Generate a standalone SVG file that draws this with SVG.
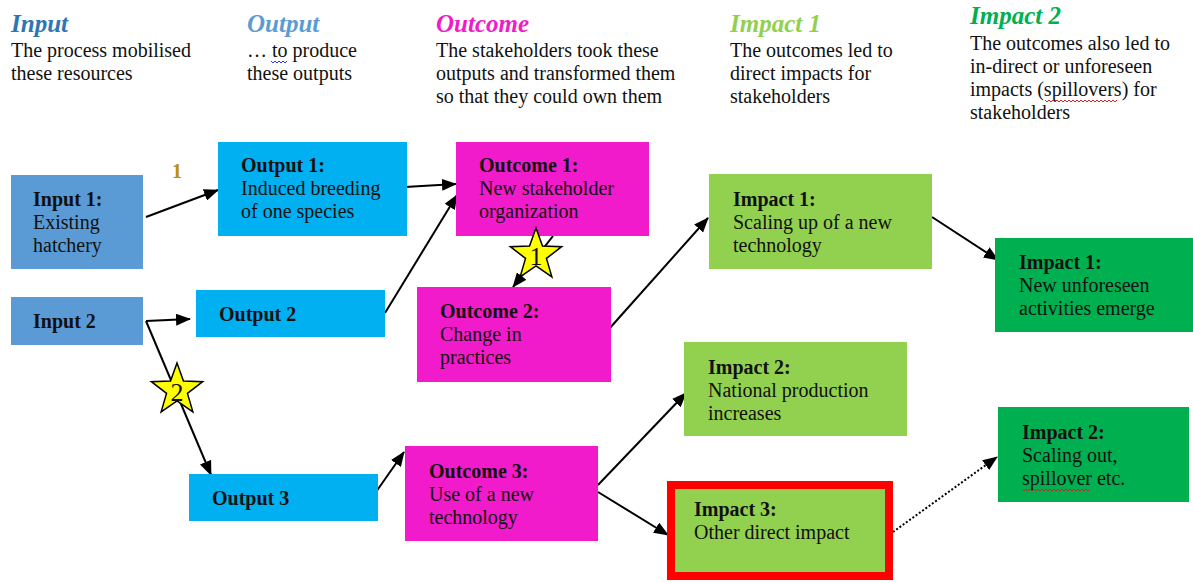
<svg xmlns="http://www.w3.org/2000/svg" width="1193" height="583" viewBox="0 0 1193 583">
  <style>
    text { font-family: 'Liberation Serif', 'Times New Roman', serif; }
    .hd { font-size: 25px; font-weight: bold; font-style: italic; }
    .tx { font-size: 20px; fill: #111; }
    .b { font-weight: bold; }
    .edge { stroke: #000; stroke-width: 2; fill: none; marker-end: url(#arrow); }
    .dot { stroke-dasharray: 2 2; }
    .star { fill: #FFFF00; stroke: #000; stroke-width: 1.5; }
    .num { font-size: 26px; fill: #111; text-anchor: middle; }
    .wavy-b { fill: none; stroke: #3333DD; stroke-width: 1; }
    .wavy-r { fill: none; stroke: #E02020; stroke-width: 1; }
    .inp { fill: #5B9BD5; }
    .out { fill: #00B0F0; }
    .ocm { fill: #F11BCB; }
    .im1 { fill: #92D050; }
    .im2 { fill: #00B050; }
  </style>
  <defs>
    <marker id="arrow" markerUnits="userSpaceOnUse" markerWidth="15" markerHeight="12" refX="14" refY="6" orient="auto">
      <path d="M0,0 L15,6 L0,12 z" fill="#000"/>
    </marker>
    <path id="starShape" d="M0,-27 L6.47,-8.9 L25.68,-8.34 L10.46,3.4 L15.87,21.84 L0,11 L-15.87,21.84 L-10.46,3.4 L-25.68,-8.34 L-6.47,-8.9 Z"/>
  </defs>

  <rect width="1193" height="583" fill="#fff"/>

  <!-- column headings -->
  <g id="headings">
    <text class="hd" x="11" y="32" fill="#2E75B6">Input</text>
    <text class="tx" x="11" y="57">The process mobilised</text>
    <text class="tx" x="11" y="80">these resources</text>

    <text class="hd" x="247" y="32" fill="#5B9BD5">Output</text>
    <text class="tx" x="247" y="57">… to produce</text>
    <text class="tx" x="247" y="80">these outputs</text>
    <path class="wavy-b" d="M271,61 l2,2 l2,-2 l2,2 l2,-2 l2,2 l2,-2 l2,2 l2,-2"/>

    <text class="hd" x="436" y="32" fill="#EE1DC8">Outcome</text>
    <text class="tx" x="436" y="57">The stakeholders took these</text>
    <text class="tx" x="436" y="80">outputs and transformed them</text>
    <text class="tx" x="436" y="103">so that they could own them</text>

    <text class="hd" x="730" y="32" fill="#92D050">Impact 1</text>
    <text class="tx" x="730" y="57">The outcomes led to</text>
    <text class="tx" x="730" y="80">direct impacts for</text>
    <text class="tx" x="730" y="103">stakeholders</text>

    <text class="hd" x="970" y="24" fill="#00B050">Impact 2</text>
    <text class="tx" x="970" y="50">The outcomes also led to</text>
    <text class="tx" x="970" y="73">in-direct or unforeseen</text>
    <text class="tx" x="970" y="96">impacts (spillovers) for</text>
    <text class="tx" x="970" y="119">stakeholders</text>
    <path class="wavy-r" d="M1045,100 l2,2 l2,-2 l2,2 l2,-2 l2,2 l2,-2 l2,2 l2,-2 l2,2 l2,-2 l2,2 l2,-2 l2,2 l2,-2 l2,2 l2,-2 l2,2 l2,-2 l2,2 l2,-2 l2,2 l2,-2 l2,2 l2,-2 l2,2 l2,-2 l2,2 l2,-2 l2,2 l2,-2 l2,2 l2,-2 l2,2 l2,-2 l2,2 l2,-2"/>
  </g>

  <!-- connectors -->
  <g id="connectors">
    <line class="edge" x1="146" y1="217" x2="218" y2="190"/>
    <line class="edge" x1="405" y1="187" x2="456" y2="184"/>
    <line class="edge" x1="385" y1="313" x2="457" y2="195"/>
    <line class="edge" x1="553" y1="236" x2="513" y2="287"/>
    <line class="edge" x1="609" y1="329" x2="708" y2="218"/>
    <line class="edge" x1="932" y1="217" x2="998" y2="260"/>
    <line class="edge" x1="146" y1="321" x2="190" y2="319"/>
    <line class="edge" x1="146" y1="321" x2="211" y2="475"/>
    <line class="edge" x1="376" y1="492" x2="404" y2="452"/>
    <line class="edge" x1="598" y1="485" x2="686" y2="393"/>
    <line class="edge" x1="598" y1="492" x2="668" y2="535"/>
    <line class="edge dot" x1="893" y1="532" x2="997" y2="457"/>
  </g>

  <text x="177" y="178" font-size="20" font-weight="bold" fill="#BF9000" text-anchor="middle">1</text>

  <!-- inputs -->
  <g id="input1">
    <rect class="inp" x="11" y="175" width="132" height="94"/>
    <text class="tx b" x="33" y="206">Input 1:</text>
    <text class="tx" x="33" y="229">Existing</text>
    <text class="tx" x="33" y="252">hatchery</text>
  </g>
  <g id="input2">
    <rect class="inp" x="11" y="297" width="132" height="48"/>
    <text class="tx b" x="33" y="328">Input 2</text>
  </g>

  <!-- outputs -->
  <g id="output1">
    <rect class="out" x="218" y="142" width="189" height="94"/>
    <text class="tx b" x="241" y="172">Output 1:</text>
    <text class="tx" x="241" y="195">Induced breeding</text>
    <text class="tx" x="241" y="218">of one species</text>
  </g>
  <g id="output2">
    <rect class="out" x="196" y="290" width="189" height="47"/>
    <text class="tx b" x="219" y="321">Output 2</text>
  </g>
  <g id="output3">
    <rect class="out" x="189" y="474" width="189" height="47"/>
    <text class="tx b" x="212" y="505">Output 3</text>
  </g>

  <!-- outcomes -->
  <g id="outcome1">
    <rect class="ocm" x="456" y="142" width="193" height="94"/>
    <text class="tx b" x="479" y="172">Outcome 1:</text>
    <text class="tx" x="479" y="195">New stakeholder</text>
    <text class="tx" x="479" y="218">organization</text>
  </g>
  <g id="outcome2">
    <rect class="ocm" x="417" y="287" width="194" height="95"/>
    <text class="tx b" x="440" y="318">Outcome 2:</text>
    <text class="tx" x="440" y="341">Change in</text>
    <text class="tx" x="440" y="364">practices</text>
  </g>
  <g id="outcome3">
    <rect class="ocm" x="405" y="446" width="193" height="95"/>
    <text class="tx b" x="429" y="478">Outcome 3:</text>
    <text class="tx" x="429" y="501">Use of a new</text>
    <text class="tx" x="429" y="524">technology</text>
  </g>

  <!-- direct impacts -->
  <g id="impact1-direct">
    <rect class="im1" x="709" y="174" width="223" height="95"/>
    <text class="tx b" x="733" y="206">Impact 1:</text>
    <text class="tx" x="733" y="229">Scaling up of a new</text>
    <text class="tx" x="733" y="252">technology</text>
  </g>
  <g id="impact2-direct">
    <rect class="im1" x="684" y="342" width="223" height="94"/>
    <text class="tx b" x="708" y="374">Impact 2:</text>
    <text class="tx" x="708" y="397">National production</text>
    <text class="tx" x="708" y="420">increases</text>
  </g>
  <g id="impact3-direct">
    <rect class="im1" x="671" y="485" width="218" height="91" stroke="#FF0000" stroke-width="8"/>
    <text class="tx b" x="694" y="516">Impact 3:</text>
    <text class="tx" x="694" y="539">Other direct impact</text>
  </g>

  <!-- indirect impacts -->
  <g id="impact1-indirect">
    <rect class="im2" x="995" y="238" width="198" height="94"/>
    <text class="tx b" x="1019" y="269">Impact 1:</text>
    <text class="tx" x="1019" y="292">New unforeseen</text>
    <text class="tx" x="1019" y="315">activities emerge</text>
  </g>
  <g id="impact2-indirect">
    <rect class="im2" x="998" y="407" width="191" height="95"/>
    <text class="tx b" x="1022" y="439">Impact 2:</text>
    <text class="tx" x="1022" y="462">Scaling out,</text>
    <text class="tx" x="1022" y="485">spillover etc.</text>
    <path class="wavy-r" d="M1022,489 l2,2 l2,-2 l2,2 l2,-2 l2,2 l2,-2 l2,2 l2,-2 l2,2 l2,-2 l2,2 l2,-2 l2,2 l2,-2 l2,2 l2,-2 l2,2 l2,-2 l2,2 l2,-2 l2,2 l2,-2 l2,2 l2,-2 l2,2 l2,-2 l2,2 l2,-2 l2,2 l2,-2 l2,2 l2,-2 l2,2 l2,-2"/>
  </g>

  <!-- numbered stars -->
  <g id="star1">
    <use href="#starShape" class="star" transform="translate(536,255)"/>
    <text class="num" x="536" y="265">1</text>
  </g>
  <g id="star2">
    <use href="#starShape" class="star" transform="translate(177,390)"/>
    <text class="num" x="177" y="401">2</text>
  </g>
</svg>
